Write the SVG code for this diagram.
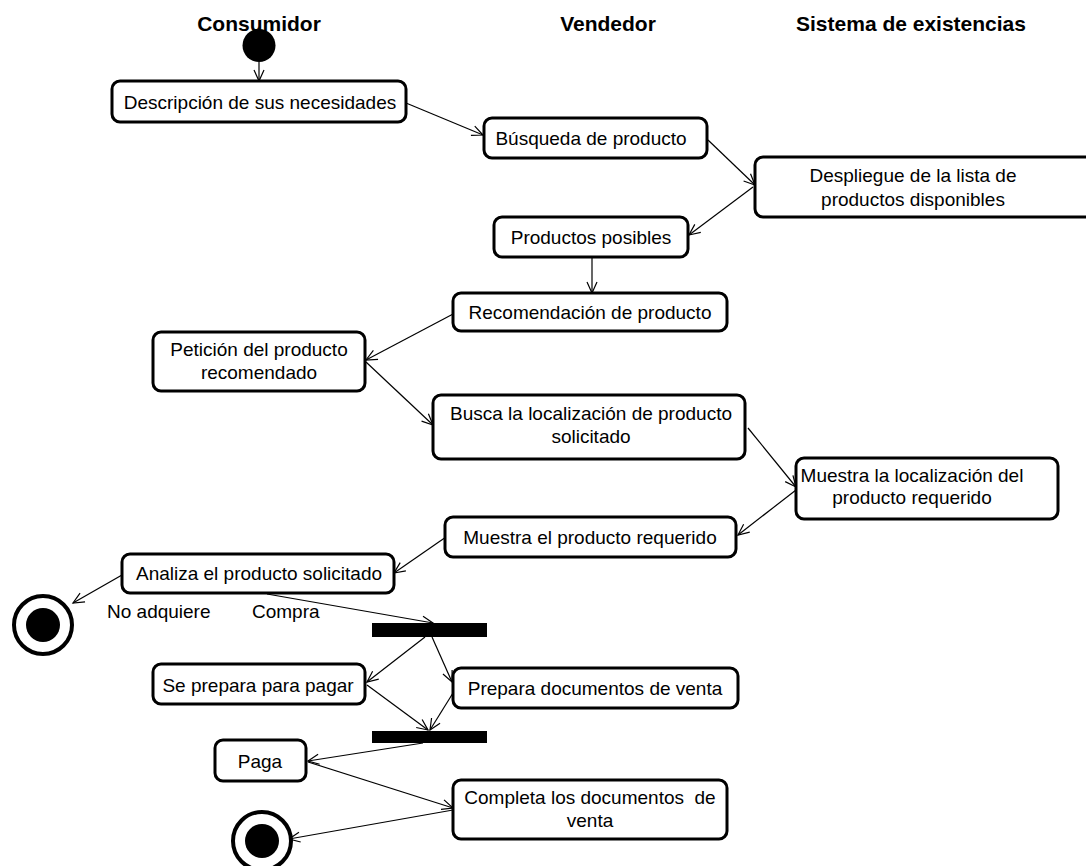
<svg xmlns="http://www.w3.org/2000/svg" width="1086" height="866" viewBox="0 0 1086 866">
<style>
.box{fill:#fff;stroke:#000;stroke-width:3}
.t{font-family:"Liberation Sans",Arial,sans-serif;font-size:19px;fill:#000;text-anchor:middle}
.tl{font-family:"Liberation Sans",Arial,sans-serif;font-size:19px;fill:#000}
.h{font-family:"Liberation Sans",Arial,sans-serif;font-size:21px;font-weight:bold;fill:#000;text-anchor:middle}
.c{fill:none;stroke:#000;stroke-width:1.2}
.bar{fill:#000}
</style>
<defs>
<marker id="arr" markerUnits="userSpaceOnUse" markerWidth="14" markerHeight="12" refX="0" refY="0" viewBox="-12 -6 14 12" orient="auto" overflow="visible">
<path d="M-11,-5 L0,0 L-11,5" fill="none" stroke="#000" stroke-width="1.2"/>
</marker>
</defs>
<rect width="1086" height="866" fill="#fff"/>
<g id="headers">
<text class="h" x="259" y="31">Consumidor</text>
<text class="h" x="608" y="31">Vendedor</text>
<text class="h" x="911" y="31">Sistema de existencias</text>
</g>
<g id="connectors">
<line class="c" x1="259" y1="62" x2="259" y2="81" marker-end="url(#arr)"/>
<line class="c" x1="406" y1="103" x2="483" y2="135" marker-end="url(#arr)"/>
<line class="c" x1="708" y1="140" x2="755" y2="185" marker-end="url(#arr)"/>
<line class="c" x1="753" y1="187" x2="689" y2="235" marker-end="url(#arr)"/>
<line class="c" x1="592" y1="258" x2="592" y2="293" marker-end="url(#arr)"/>
<line class="c" x1="455" y1="313" x2="366" y2="360" marker-end="url(#arr)"/>
<line class="c" x1="366" y1="362" x2="433" y2="425" marker-end="url(#arr)"/>
<line class="c" x1="748" y1="428" x2="796" y2="487" marker-end="url(#arr)"/>
<line class="c" x1="796" y1="490" x2="738" y2="535" marker-end="url(#arr)"/>
<line class="c" x1="446" y1="537" x2="394" y2="573" marker-end="url(#arr)"/>
<line class="c" x1="122" y1="575" x2="73" y2="603" marker-end="url(#arr)"/>
<line class="c" x1="267" y1="594" x2="433" y2="623" marker-end="url(#arr)"/>
<line class="c" x1="425" y1="637" x2="367" y2="682" marker-end="url(#arr)"/>
<line class="c" x1="432" y1="637" x2="452" y2="682" marker-end="url(#arr)"/>
<line class="c" x1="367" y1="685" x2="428" y2="730" marker-end="url(#arr)"/>
<line class="c" x1="453" y1="693" x2="430" y2="730" marker-end="url(#arr)"/>
<line class="c" x1="423" y1="743" x2="308" y2="761" marker-end="url(#arr)"/>
<line class="c" x1="308" y1="762" x2="453" y2="808" marker-end="url(#arr)"/>
<line class="c" x1="453" y1="810" x2="289" y2="839" marker-end="url(#arr)"/>
</g>
<g id="start"><circle cx="259" cy="45.5" r="16.5" fill="#000"/></g>
<g id="n1"><rect class="box" x="112" y="81" width="294" height="41" rx="8"/><text class="t" x="260" y="109">Descripción de sus necesidades</text></g>
<g id="n2"><rect class="box" x="484" y="118" width="223" height="40" rx="8"/><text class="t" x="591" y="145">Búsqueda de producto</text></g>
<g id="n3"><rect class="box" x="755" y="157" width="345" height="60" rx="8"/><text class="t" x="913" y="182">Despliegue de la lista de</text><text class="t" x="913" y="206">productos disponibles</text></g>
<g id="n4"><rect class="box" x="494" y="217" width="194" height="40" rx="8"/><text class="t" x="591" y="244">Productos posibles</text></g>
<g id="n5"><rect class="box" x="453" y="293" width="274" height="38" rx="8"/><text class="t" x="590" y="319">Recomendación de producto</text></g>
<g id="n6"><rect class="box" x="153" y="332" width="212" height="59" rx="8"/><text class="t" x="259" y="356">Petición del producto</text><text class="t" x="259" y="379">recomendado</text></g>
<g id="n7"><rect class="box" x="433" y="395" width="312" height="64" rx="8"/><text class="t" x="591" y="420">Busca la localización de producto</text><text class="t" x="591" y="443">solicitado</text></g>
<g id="n8"><rect class="box" x="796" y="458" width="262" height="61" rx="8"/><text class="t" x="912" y="482">Muestra la localización del</text><text class="t" x="912" y="504">producto requerido</text></g>
<g id="n9"><rect class="box" x="445" y="517" width="291" height="40" rx="8"/><text class="t" x="590" y="544">Muestra el producto requerido</text></g>
<g id="n10"><rect class="box" x="122" y="554" width="272" height="39" rx="8"/><text class="t" x="259" y="580">Analiza el producto solicitado</text></g>
<g id="end1"><circle cx="43" cy="625" r="29" fill="#fff" stroke="#000" stroke-width="4"/><circle cx="43" cy="625" r="17" fill="#000"/></g>
<g id="labels">
<text class="tl" x="107" y="618">No adquiere</text>
<text class="tl" x="252" y="618">Compra</text>
</g>
<g id="fork1"><rect class="bar" x="372" y="623" width="115" height="14"/></g>
<g id="n11"><rect class="box" x="153" y="664" width="212" height="40" rx="8"/><text class="t" x="258" y="692">Se prepara para pagar</text></g>
<g id="n12"><rect class="box" x="453" y="668" width="285" height="40" rx="8"/><text class="t" x="595" y="695">Prepara documentos de venta</text></g>
<g id="join1"><rect class="bar" x="372" y="731" width="115" height="12"/></g>
<g id="n13"><rect class="box" x="215" y="740" width="91" height="41" rx="8"/><text class="t" x="260" y="768">Paga</text></g>
<g id="n14"><rect class="box" x="453" y="780" width="274" height="59" rx="8"/><text class="t" x="590" y="804">Completa los documentos&#160; de</text><text class="t" x="590" y="827">venta</text></g>
<g id="end2"><circle cx="262" cy="841" r="29" fill="#fff" stroke="#000" stroke-width="4"/><circle cx="262" cy="841" r="17" fill="#000"/></g>
</svg>
